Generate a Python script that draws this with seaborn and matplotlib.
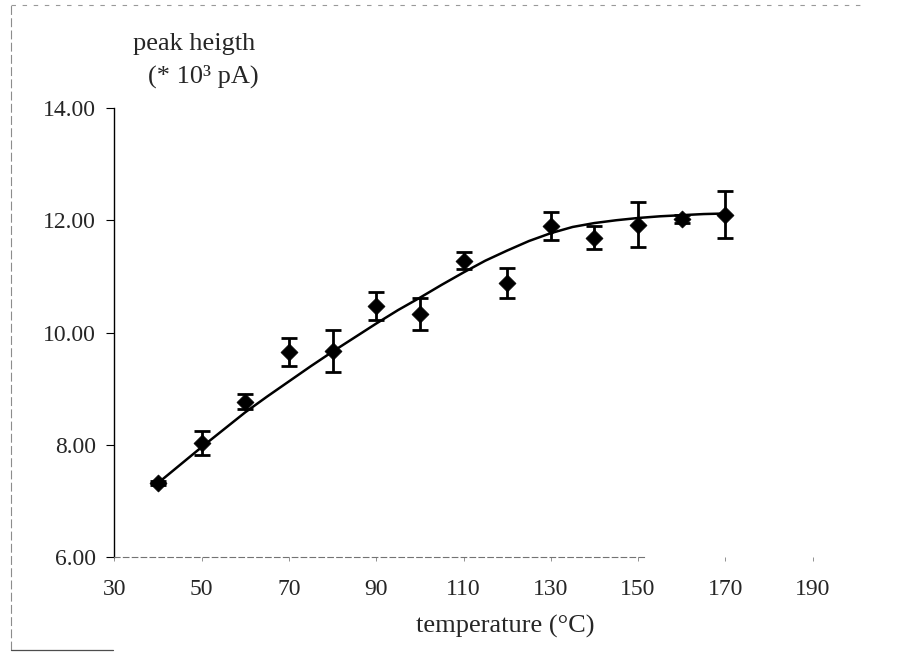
import matplotlib
matplotlib.use("Agg")
import matplotlib.pyplot as plt
from matplotlib.lines import Line2D
import seaborn as sns
import pandas as pd

# ---- data ----
temperature = [40, 50, 60, 70, 80, 90, 100, 110, 120, 130, 140, 150, 160, 170]
peak_height = [7.32, 8.03, 8.77, 9.65, 9.67, 10.47, 10.33, 11.28, 10.88, 11.90, 11.69, 11.92, 12.02, 12.10]
error = [0.04, 0.21, 0.13, 0.25, 0.37, 0.25, 0.29, 0.15, 0.27, 0.25, 0.20, 0.40, 0.07, 0.42]

# trend curve
trend_temperature = [40, 45, 50, 55, 60, 65, 70, 75, 80, 85, 90, 95, 100, 105, 110,
                     115, 120, 125, 130, 135, 140, 145, 150, 155, 160, 165, 170]
trend_height = [7.32, 7.64, 7.96, 8.27, 8.58, 8.86, 9.13, 9.40, 9.66, 9.91, 10.16, 10.40,
                10.62, 10.85, 11.07, 11.28, 11.46, 11.63, 11.77, 11.88, 11.95, 12.00,
                12.04, 12.07, 12.09, 12.11, 12.12]

x_ticks = [30, 50, 70, 90, 110, 130, 150, 170, 190]
y_ticks = [6, 8, 10, 12, 14]
y_tick_labels = ["6.00", "8.00", "10.00", "12.00", "14.00"]

df = pd.DataFrame({"temperature": temperature, "peak": peak_height, "err": error})
trend = pd.DataFrame({"temperature": trend_temperature, "peak": trend_height})

sns.set_theme(style="white")
plt.rcParams["font.family"] = ["Liberation Serif", "DejaVu Serif"]

fig = plt.figure(figsize=(9, 6.54), dpi=100)
ax = fig.add_axes([0.127, 0.148, 0.776, 0.687])

# trend line
sns.lineplot(data=trend, x="temperature", y="peak", color="black", lw=1.8,
             sort=True, ax=ax, zorder=2)
# error bars
ax.errorbar(df["temperature"], df["peak"], yerr=df["err"], fmt="none",
            ecolor="black", elinewidth=2.0, capsize=6, capthick=2.0, zorder=3)
# diamond markers
sns.scatterplot(data=df, x="temperature", y="peak", marker="D", s=75,
                color="black", edgecolor="black", linewidth=0.5, ax=ax, zorder=4)

ax.set_xlim(30, 190)
ax.set_ylim(6, 14)
ax.set_xticks(x_ticks)
ax.set_xticklabels([str(t) for t in x_ticks])
ax.set_yticks(y_ticks)
ax.set_yticklabels(y_tick_labels)
ax.set_xlabel("")
ax.set_ylabel("")

for s in ["top", "right"]:
    ax.spines[s].set_visible(False)
ax.spines["left"].set_color("black")
ax.spines["left"].set_linewidth(1.0)
ax.spines["bottom"].set_color("0.45")
ax.spines["bottom"].set_linewidth(0.8)
ax.spines["bottom"].set_linestyle((0, (5, 3)))
ax.spines["bottom"].set_bounds(30, 152)

ax.tick_params(axis="y", direction="out", length=6, width=0.8, color="black",
               labelsize=17, pad=7, left=True)
ax.tick_params(axis="x", direction="out", length=3, width=0.6, color="0.5",
               labelsize=17, pad=13, bottom=True)
ax.grid(False)

fig.text(133 / 900, 1 - 44 / 654, "peak heigth", ha="left", va="center", fontsize=19)
fig.text(148 / 900, 1 - 76 / 654, "(* 10³ pA)", ha="left", va="center", fontsize=19)
fig.text(505 / 900, 1 - 626 / 654, "temperature (°C)", ha="center", va="center", fontsize=19)

# chart-area border as seen in the scan
fig.add_artist(Line2D([0.012, 0.012], [0.006, 0.992], color="0.55", lw=0.8,
                      linestyle=(0, (8, 3)), transform=fig.transFigure))
fig.add_artist(Line2D([0.012, 0.96], [0.992, 0.992], color="0.6", lw=0.8,
                      linestyle=(0, (4, 6)), transform=fig.transFigure))
fig.add_artist(Line2D([0.012, 0.125], [0.006, 0.006], color="0.3", lw=0.9,
                      transform=fig.transFigure))

fig.savefig("out.png", dpi=100, facecolor="white")
